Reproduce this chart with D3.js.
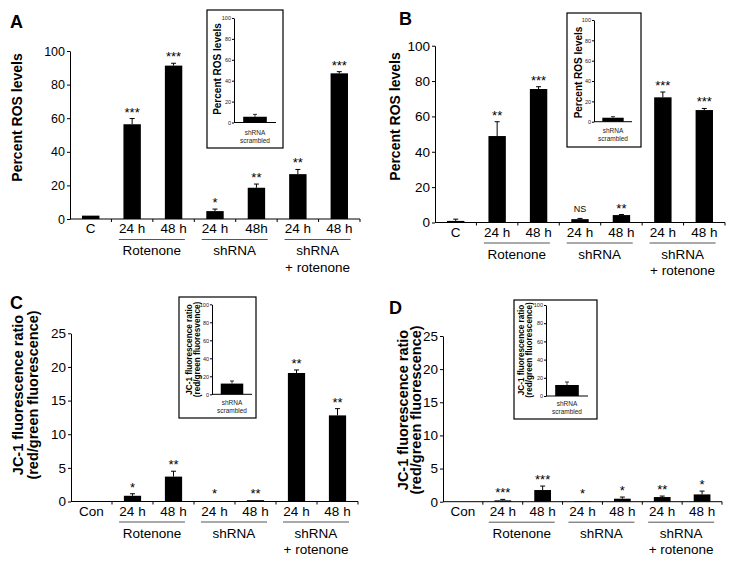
<!DOCTYPE html>
<html>
<head>
<meta charset="utf-8">
<script src="https://cdn.jsdelivr.net/npm/d3@7"></script>
<style>
  body { margin: 0; background: #fff; }
  svg { display: block; font-family: "Liberation Sans", Arial, sans-serif; }
</style>
</head>
<body>
<script>
// ---- data ----
var catsA = ["C", "24 h", "48 h", "24 h", "48h", "24 h", "48 h"];
var catsB = ["C", "24 h", "48 h", "24 h", "48 h", "24 h", "48 h"];
var catsJC = ["Con", "24 h", "48 h", "24 h", "48 h", "24 h", "48 h"];
var groupNames = [["Rotenone"], ["shRNA"], ["shRNA", "+ rotenone"]];

var rosA = [2, 56.4, 91.3, 4.7, 18.6, 26.7, 86.7];
var rosAErr = [0, 3.4, 1.4, 1.2, 2.2, 2.8, 1.0];
var rosAStars = ["", "***", "***", "*", "**", "**", "***"];

var rosB = [0.9, 48.9, 75.5, 1.9, 4.2, 70.8, 63.6];
var rosBErr = [1.0, 8.1, 1.3, 0.4, 0.3, 3.0, 0.9];
var rosBStars = ["", "**", "***", "NS", "**", "***", "***"];

var jcC = [0, 0.85, 3.7, 0.03, 0.2, 19.1, 12.8];
var jcCErr = [0, 0.3, 0.8, 0, 0, 0.45, 1.0];
var jcCStars = ["", "*", "**", "*", "**", "**", "**"];

var jcD = [0, 0.2, 1.76, 0.1, 0.45, 0.7, 1.1];
var jcDErr = [0, 0.15, 0.6, 0, 0.25, 0.15, 0.5];
var jcDStars = ["", "***", "***", "*", "*", "**", "*"];

var rosTicks = [0, 20, 40, 60, 80, 100];
var jcTicks = [0, 5, 10, 15, 20, 25];
var insetTicks = [0, 20, 40, 60, 80, 100];
var insetCat = ["shRNA", "scrambled"];
var insetVals = [5.5, 3.9, 11.9, 12.1];   // A, B, C, D
var insetErrs = [2.3, 1.0, 2.9, 3.3];

var font = '"Liberation Sans", Arial, sans-serif';

var svg = d3.select("body").append("svg")
  .attr("width", 736)
  .attr("height", 562);

// ---- one main panel ----
function drawPanel(p) {
  var g = svg.append("g");
  var x = d3.scaleBand()
    .domain(d3.range(p.cats.length))
    .range([p.x0, p.x1])
    .paddingInner(0.58)
    .paddingOuter(0.29);
  var y = d3.scaleLinear()
    .domain([0, p.max])
    .range([p.y0, p.yTop]);

  // y axis
  var ya = g.append("g")
    .attr("transform", "translate(" + p.x0 + ",0)")
    .call(d3.axisLeft(y).tickValues(p.ticks).tickSize(3).tickPadding(2).tickSizeOuter(0));
  ya.selectAll("text").style("font-size", p.tickFont + "px").style("font-family", font).attr("fill", "#000");
  ya.select(".domain").attr("stroke", "#000");

  // x axis line + boundary ticks
  g.append("line")
    .attr("x1", p.x0).attr("x2", p.x1)
    .attr("y1", p.y0).attr("y2", p.y0)
    .attr("stroke", "#000");
  d3.range(1, p.cats.length + 1).forEach(function(i) {
    var bx = x.range()[0] + i * x.step();
    g.append("line")
      .attr("x1", bx).attr("x2", bx)
      .attr("y1", p.y0).attr("y2", p.y0 + 3)
      .attr("stroke", "#000");
  });

  // bars
  g.selectAll("rect.bar")
    .data(p.vals)
    .enter().append("rect")
    .attr("class", "bar")
    .attr("x", function(d, i) { return x(i); })
    .attr("width", x.bandwidth())
    .attr("y", function(d) { return y(d); })
    .attr("height", function(d) { return p.y0 - y(d); })
    .attr("fill", "#000");

  // error bars (upper only)
  p.errs.forEach(function(e, i) {
    if (e <= 0) return;
    var cx = x(i) + x.bandwidth() / 2;
    g.append("line")
      .attr("x1", cx).attr("x2", cx)
      .attr("y1", y(p.vals[i])).attr("y2", y(p.vals[i] + e))
      .attr("stroke", "#000");
    g.append("line")
      .attr("x1", cx - 2.5).attr("x2", cx + 2.5)
      .attr("y1", y(p.vals[i] + e)).attr("y2", y(p.vals[i] + e))
      .attr("stroke", "#000");
  });

  // significance marks
  p.stars.forEach(function(s, i) {
    if (!s) return;
    var cx = x(i) + x.bandwidth() / 2;
    var top = y(p.vals[i] + p.errs[i]);
    if (s == "NS") {
      g.append("text")
        .attr("x", cx).attr("y", top - 6)
        .attr("text-anchor", "middle")
        .style("font-size", "9px")
        .text(s);
    } else {
      g.append("text")
        .attr("x", cx).attr("y", Math.min(top, p.y0 - 2) - 2)
        .attr("text-anchor", "middle")
        .style("font-size", "13px")
        .text(s);
    }
  });

  // category labels
  p.cats.forEach(function(c, i) {
    g.append("text")
      .attr("x", x(i) + x.bandwidth() / 2)
      .attr("y", p.y0 + 14)
      .attr("text-anchor", "middle")
      .style("font-size", "13.5px")
      .text(c);
  });

  // group underlines + names
  groupNames.forEach(function(names, k) {
    var i0 = 1 + k * 2, i1 = i0 + 1;
    var cx = (x(i0) + x(i1) + x.bandwidth()) / 2 - 1;
    g.append("line")
      .attr("x1", cx - 33).attr("x2", cx + 33)
      .attr("y1", p.y0 + 20.5).attr("y2", p.y0 + 20.5)
      .attr("stroke", "#555");
    names.forEach(function(n, j) {
      g.append("text")
        .attr("x", cx).attr("y", p.y0 + 36 + j * 16.5)
        .attr("text-anchor", "middle")
        .style("font-size", "13.5px")
        .text(n);
    });
  });

  // y title (rotated, one or two lines)
  p.title.forEach(function(t, j) {
    g.append("text")
      .attr("transform", "translate(" + p.titleX[j] + "," + p.titleY + ") rotate(-90)")
      .attr("text-anchor", "middle")
      .attr("dy", "0.35em")
      .style("font-size", p.titleFont + "px")
      .style("font-weight", "bold")
      .text(t);
  });

  // panel letter
  g.append("text")
    .attr("x", p.letterX).attr("y", p.letterY)
    .style("font-size", "18px")
    .style("font-weight", "bold")
    .text(p.letter);
}

// ---- inset ----
function drawInset(s, k) {
  var g = svg.append("g");
  g.append("rect")
    .attr("x", s.box[0]).attr("y", s.box[1])
    .attr("width", s.box[2] - s.box[0]).attr("height", s.box[3] - s.box[1])
    .attr("fill", "#fff").attr("stroke", "#000").attr("stroke-width", 1.2);
  var x = d3.scaleBand().domain([0]).range([s.ax, s.axEnd]).padding(0.28);
  var y = d3.scaleLinear().domain([0, 100]).range([s.y0, s.yTop]);
  var ya = g.append("g")
    .attr("transform", "translate(" + s.ax + ",0)")
    .call(d3.axisLeft(y).tickValues(insetTicks).tickSize(2).tickPadding(1).tickSizeOuter(0));
  ya.selectAll("text").style("font-size", "5.5px").style("font-family", font).attr("fill", "#222");
  ya.select(".domain").attr("stroke", "#000");
  g.append("line")
    .attr("x1", s.ax).attr("x2", s.axEnd)
    .attr("y1", s.y0).attr("y2", s.y0)
    .attr("stroke", "#000");
  var v = insetVals[k], e = insetErrs[k];
  var cx = x(0) + x.bandwidth() / 2;
  g.append("rect")
    .attr("x", x(0)).attr("width", x.bandwidth())
    .attr("y", y(v)).attr("height", s.y0 - y(v))
    .attr("fill", "#000");
  g.append("line")
    .attr("x1", cx).attr("x2", cx).attr("y1", y(v)).attr("y2", y(v + e))
    .attr("stroke", "#000").attr("stroke-width", 0.8);
  g.append("line")
    .attr("x1", cx - 2).attr("x2", cx + 2).attr("y1", y(v + e)).attr("y2", y(v + e))
    .attr("stroke", "#000").attr("stroke-width", 0.8);
  insetCat.forEach(function(t, j) {
    g.append("text")
      .attr("x", (s.ax + s.axEnd) / 2).attr("y", s.labY + j * 8)
      .attr("text-anchor", "middle")
      .style("font-size", "6.5px")
      .attr("fill", "#222")
      .text(t);
  });
  s.title.forEach(function(t, j) {
    g.append("text")
      .attr("transform", "translate(" + s.titleX[j] + "," + s.titleY + ") rotate(-90)")
      .attr("text-anchor", "middle")
      .attr("dy", "0.35em")
      .style("font-size", s.titleFont + "px")
      .style("font-weight", "bold")
      .text(t);
  });
}

drawPanel({letter: "A", letterX: 10, letterY: 28, cats: catsA, vals: rosA, errs: rosAErr, stars: rosAStars,
  x0: 70, x1: 360, y0: 219, yTop: 51, max: 100, ticks: rosTicks, tickFont: 12.5,
  title: ["Percent ROS levels"], titleX: [17], titleY: 117.5, titleFont: 14});
drawPanel({letter: "B", letterX: 399, letterY: 25, cats: catsB, vals: rosB, errs: rosBErr, stars: rosBStars,
  x0: 435, x1: 725, y0: 222.5, yTop: 45.7, max: 100, ticks: rosTicks, tickFont: 13.5,
  title: ["Percent ROS levels"], titleX: [395], titleY: 116.5, titleFont: 14});
drawPanel({letter: "C", letterX: 10, letterY: 309, cats: catsJC, vals: jcC, errs: jcCErr, stars: jcCStars,
  x0: 71, x1: 358, y0: 501.5, yTop: 333.3, max: 25, ticks: jcTicks, tickFont: 13.5,
  title: ["JC-1 fluorescence ratio", "(red/green fluorescence)"], titleX: [18, 32.5], titleY: 395, titleFont: 14.5});
drawPanel({letter: "D", letterX: 389, letterY: 314, cats: catsJC, vals: jcD, errs: jcDErr, stars: jcDStars,
  x0: 443, x1: 722, y0: 501.7, yTop: 336, max: 25, ticks: jcTicks, tickFont: 13.5,
  title: ["JC-1 fluorescence ratio", "(red/green fluorescence)"], titleX: [403, 415.5], titleY: 410, titleFont: 14.5});

drawInset({box: [207, 10, 283, 148], ax: 234, axEnd: 276, y0: 122.5, yTop: 18, labY: 135,
  title: ["Percent ROS levels"], titleX: [217], titleY: 69, titleFont: 10}, 0);
drawInset({box: [567, 13, 641, 147], ax: 594, axEnd: 632, y0: 121.7, yTop: 20, labY: 132.5,
  title: ["Percent ROS levels"], titleX: [578], titleY: 72.5, titleFont: 10}, 1);
drawInset({box: [179, 297, 256, 418], ax: 212, axEnd: 252, y0: 394.3, yTop: 304.3, labY: 405,
  title: ["JC-1 fluorescence ratio", "(red/green fluoresvence)"], titleX: [189.5, 197], titleY: 349.5, titleFont: 8.2}, 2);
drawInset({box: [514, 300, 597, 419], ax: 546, axEnd: 588, y0: 396, yTop: 305, labY: 406,
  title: ["JC-1 fluorescence ratio", "(red/green fluorescence)"], titleX: [521, 529.5], titleY: 350, titleFont: 8.2}, 3);
</script>
</body>
</html>
